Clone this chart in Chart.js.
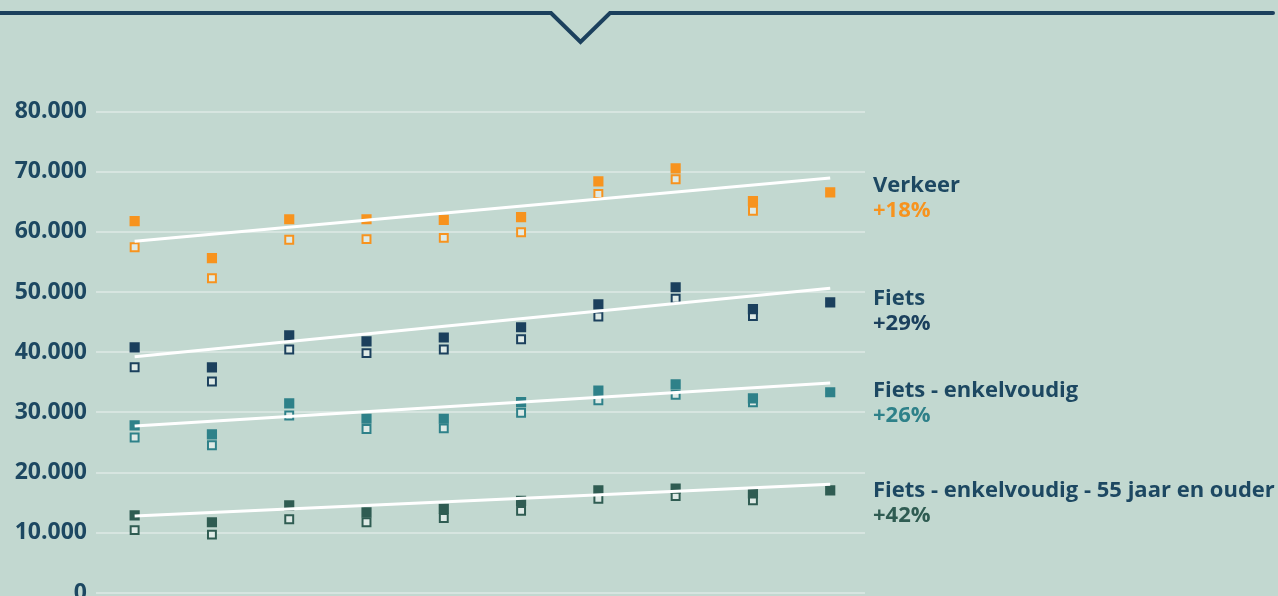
<!DOCTYPE html>
<html>
<head>
<meta charset="utf-8">
<script src="https://cdn.jsdelivr.net/npm/chart.js@4"></script>
<style>
  html, body { margin: 0; padding: 0; background: #c2d8d0; overflow: hidden; }
  #wrap { position: absolute; left: 0; top: 0; width: 1278px; height: 620px; }
</style>
</head>
<body>
<div id="wrap"><canvas id="grafiek"></canvas></div>
<script>
  // tick waarden y-as
  const yTicks = [0, 10000, 20000, 30000, 40000, 50000, 60000, 70000, 80000];

  // reeksen: gevuld = volle vierkantjes, open = lege vierkantjes
  const verkeerVol  = [61800, 55650, 62100, 62100, 62000, 62450, 68400, 70550, 65100, 66550];
  const verkeerOpen = [57450, 52300, 58700, 58800, 59000, 59950, 66300, 68750, 63500];
  const fietsVol    = [40800, 37500, 42800, 41800, 42450, 44150, 47950, 50800, 47150, 48300];
  const fietsOpen   = [37500, 35150, 40450, 39850, 40450, 42150, 45950, 48900, 46000];
  const enkVol      = [27850, 26350, 31500, 28950, 28950, 31700, 33650, 34650, 32350, 33350];
  const enkOpen     = [25850, 24550, 29500, 27250, 27350, 29950, 32000, 32950, 31700];
  const ouderVol    = [12900, 11750, 14550, 13400, 14000, 15300, 17050, 17350, 16550, 17050];
  const ouderOpen   = [10450,  9700, 12250, 11750, 12450, 13650, 15650, 16100, 15400];

  // trendlijnen: begin- en eindwaarde
  const verkeerTrend = [58450, 68950];
  const fietsTrend   = [39250, 50650];
  const enkTrend     = [27750, 34900];
  const ouderTrend   = [12800, 18050];

  const namen   = ['Verkeer', 'Fiets', 'Fiets - enkelvoudig', 'Fiets - enkelvoudig - 55 jaar en ouder'];
  const groei   = ['+18%', '+29%', '+26%', '+42%'];

  const oranje = '#f7931e';
  const navy   = '#1b405d';
  const teal   = '#2e8189';
  const groen  = '#2f5c52';
  const kleuren = [oranje, navy, teal, groen];

  function punten(arr) {
    return arr.map((v, i) => ({ x: i, y: v }));
  }
  function trend(arr) {
    return [{ x: 0, y: arr[0] }, { x: 9, y: arr[1] }];
  }
  function volSet(arr, kleur) {
    return {
      type: 'scatter', data: punten(arr), order: 2,
      pointStyle: 'rect', pointRadius: 7.2, pointHoverRadius: 7.2,
      backgroundColor: kleur, borderWidth: 0
    };
  }
  function openSet(arr, kleur) {
    return {
      type: 'scatter', data: punten(arr), order: 3,
      pointStyle: 'rect', pointRadius: 5.6, pointHoverRadius: 5.6,
      backgroundColor: 'rgba(225,236,232,0.9)', borderColor: kleur, borderWidth: 2
    };
  }
  function trendSet(arr) {
    return {
      type: 'line', data: trend(arr), order: 1,
      borderColor: '#ffffff', borderWidth: 3, pointRadius: 0, fill: false
    };
  }

  // bovenrand met inkeping
  const bovenrand = {
    id: 'bovenrand',
    beforeDraw(chart) {
      const ctx = chart.ctx;
      ctx.save();
      ctx.strokeStyle = '#1b405d';
      ctx.lineWidth = 4;
      ctx.lineCap = 'round';
      ctx.lineJoin = 'miter';
      ctx.beginPath();
      ctx.moveTo(-5, 13);
      ctx.lineTo(551, 13);
      ctx.lineTo(580.5, 42);
      ctx.lineTo(610, 13);
      ctx.lineTo(1273, 13);
      ctx.stroke();
      ctx.restore();
    }
  };

  // labels rechts
  const labels = {
    id: 'labels',
    afterDraw(chart) {
      const ctx = chart.ctx;
      const basis = [192, 305, 397, 497];
      ctx.save();
      ctx.textAlign = 'left';
      ctx.textBaseline = 'alphabetic';
      ctx.font = '700 22px "Open Sans"';
      namen.forEach((n, i) => {
        ctx.fillStyle = '#1d4862';
        ctx.fillText(n, 873, basis[i]);
        ctx.fillStyle = kleuren[i];
        ctx.fillText(groei[i], 873, basis[i] + 25);
      });
      ctx.restore();
    }
  };

  const config = {
    data: {
      datasets: [
        trendSet(verkeerTrend), trendSet(fietsTrend), trendSet(enkTrend), trendSet(ouderTrend),
        volSet(verkeerVol, oranje), openSet(verkeerOpen, oranje),
        volSet(fietsVol, navy), openSet(fietsOpen, navy),
        volSet(enkVol, teal), openSet(enkOpen, teal),
        volSet(ouderVol, groen), openSet(ouderOpen, groen)
      ]
    },
    options: {
      responsive: true,
      maintainAspectRatio: false,
      animation: false,
      layout: {
        padding: { top: 111.5, bottom: 27, right: 413, left: 0 }
      },
      plugins: {
        legend: { display: false },
        tooltip: { enabled: false }
      },
      scales: {
        x: {
          type: 'linear', display: false,
          min: -0.5, max: 9.45
        },
        y: {
          min: 0, max: 80000,
          afterFit: (s) => { s.width = 96; },
          afterBuildTicks: (s) => { s.ticks = yTicks.map(v => ({ value: v })); },
          border: { display: false },
          grid: {
            color: 'rgba(255,255,255,0.35)', lineWidth: 2,
            drawTicks: false
          },
          ticks: {
            padding: 9,
            color: '#1d4862',
            font: { family: '"Open Sans"', size: 23, weight: '700' },
            callback: (v) => v === 0 ? '0' : v.toLocaleString('nl-NL')
          }
        }
      }
    },
    plugins: [bovenrand, labels]
  };

  const grafiek = new Chart(document.getElementById('grafiek'), config);
</script>
</body>
</html>
